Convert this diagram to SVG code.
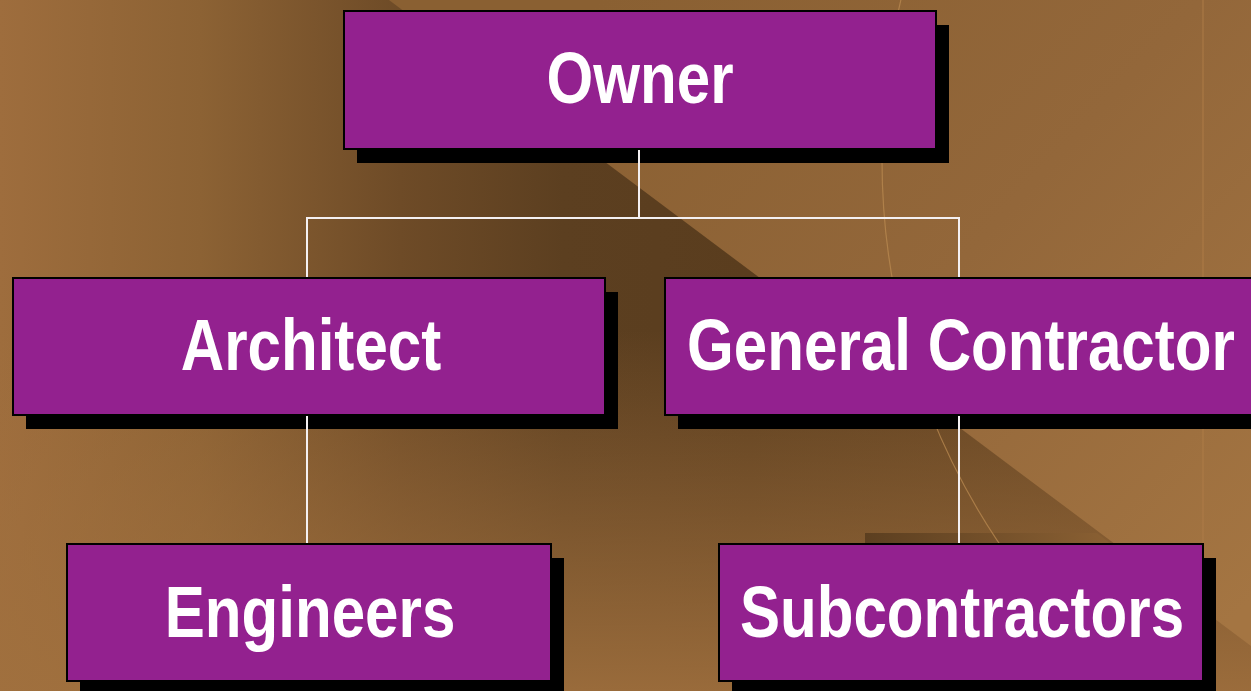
<svg xmlns="http://www.w3.org/2000/svg" width="1251" height="691" viewBox="0 0 1251 691">
  <defs>
    <linearGradient id="bgBase" gradientUnits="userSpaceOnUse" x1="0" y1="0" x2="1251" y2="0">
      <stop offset="0" stop-color="#9E6D3D"/>
      <stop offset="0.16" stop-color="#8C6234"/>
      <stop offset="0.32" stop-color="#6E4B27"/>
      <stop offset="0.45" stop-color="#5C3F20"/>
      <stop offset="0.6" stop-color="#5A3D1E"/>
      <stop offset="1" stop-color="#6A4825"/>
    </linearGradient>
    <linearGradient id="bgLift" gradientUnits="userSpaceOnUse" x1="0" y1="330" x2="0" y2="691">
      <stop offset="0" stop-color="#A0703E" stop-opacity="0"/>
      <stop offset="1" stop-color="#A0703E" stop-opacity="0.9"/>
    </linearGradient>
    <linearGradient id="bgPanel" gradientUnits="userSpaceOnUse" x1="600" y1="0" x2="1251" y2="600">
      <stop offset="0" stop-color="#8A6032"/>
      <stop offset="0.5" stop-color="#93673A"/>
      <stop offset="1" stop-color="#A47542"/>
    </linearGradient>
    <linearGradient id="bgStrip" gradientUnits="userSpaceOnUse" x1="865" y1="0" x2="1110" y2="0">
      <stop offset="0" stop-color="#5C3F20"/>
      <stop offset="1" stop-color="#8A6033"/>
    </linearGradient>
  </defs>
  <style>
    .shadow { fill: #000000; }
    .box { fill: #93218F; stroke: #000000; stroke-width: 2; }
    .label { font-family: "Liberation Sans", Arial, sans-serif; font-weight: bold; font-size: 72px; fill: #FFFFFF; text-anchor: middle; }
    .link { stroke: #F4F0F2; stroke-width: 2; fill: none; }
  </style>

  <!-- backdrop -->
  <g id="background">
    <rect x="0" y="0" width="1251" height="691" fill="url(#bgBase)"/>
    <rect x="0" y="0" width="1251" height="691" fill="url(#bgLift)"/>
    <polygon points="389,0 1251,0 1251,646" fill="url(#bgPanel)"/>
    <polygon points="865,533 1097,533 1112,545 865,545" fill="url(#bgStrip)"/>
    <line x1="1203" y1="0" x2="1203" y2="691" stroke="#B07E48" stroke-width="1.5" opacity="0.6"/>
    <circle cx="1567" cy="160" r="685" fill="none" stroke="#B98A50" stroke-width="1.2" opacity="0.75"/>
  </g>

  <!-- nodes -->
  <g id="owner">
    <rect class="shadow" x="357" y="25" width="592" height="138"/>
    <rect class="box" x="344" y="11" width="592" height="138"/>
    <text class="label" transform="translate(640,103) scale(0.835,1)">Owner</text>
  </g>
  <g id="architect">
    <rect class="shadow" x="26" y="292" width="592" height="137"/>
    <rect class="box" x="13" y="278" width="592" height="137"/>
    <text class="label" transform="translate(311,370) scale(0.835,1)">Architect</text>
  </g>
  <g id="general-contractor">
    <rect class="shadow" x="678" y="292" width="600" height="137"/>
    <rect class="box" x="665" y="278" width="600" height="137"/>
    <text class="label" transform="translate(961,370) scale(0.835,1)">General Contractor</text>
  </g>
  <g id="engineers">
    <rect class="shadow" x="80" y="558" width="484" height="137"/>
    <rect class="box" x="67" y="544" width="484" height="137"/>
    <text class="label" transform="translate(310,637) scale(0.835,1)">Engineers</text>
  </g>
  <g id="subcontractors">
    <rect class="shadow" x="732" y="558" width="484" height="137"/>
    <rect class="box" x="719" y="544" width="484" height="137"/>
    <text class="label" transform="translate(962,637) scale(0.835,1)">Subcontractors</text>
  </g>

  <!-- connectors -->
  <g id="connectors">
    <polyline class="link" points="639,150 639,218"/>
    <polyline class="link" points="307,277 307,218 959,218 959,277"/>
    <polyline class="link" points="307,416 307,543"/>
    <polyline class="link" points="959,416 959,543"/>
  </g>
</svg>
